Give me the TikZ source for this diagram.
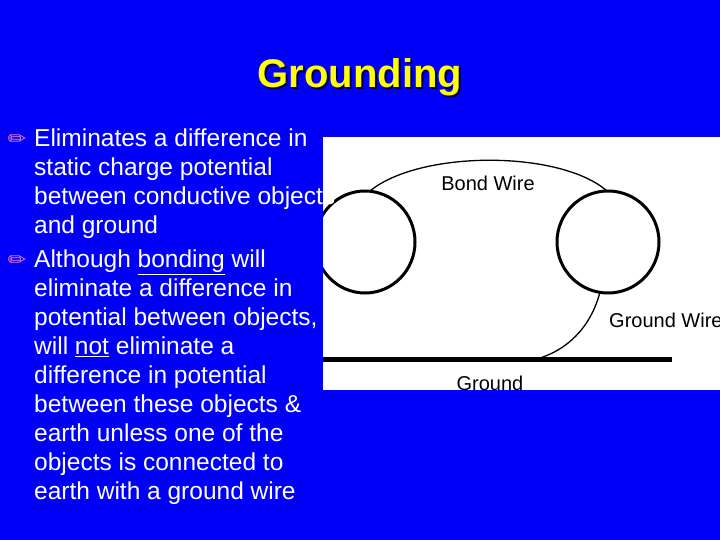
\documentclass[tikz,border=0pt]{standalone}
\usepackage{fontspec}
\setmainfont{Liberation Sans}
\newfontfamily\dejavu{DejaVu Sans}
\definecolor{bg}{RGB}{0,0,250}
\definecolor{ttl}{RGB}{255,255,0}
\definecolor{pen}{RGB}{230,120,200}
\begin{document}
\begin{tikzpicture}[x=1pt,y=-1pt,
  body/.style={text=white,font=\fontsize{24.5}{29}\selectfont,align=left,anchor=north west,inner sep=0pt},
  bul/.style={text=pen,font=\dejavu\fontsize{22}{22}\selectfont,inner sep=0pt},
  lab/.style={font=\fontsize{20}{22}\selectfont,inner sep=0pt},
  ring/.style={line width=3pt,draw=black},
  wire/.style={line width=1.3pt,draw=black}]
\useasboundingbox (0,0) rectangle (720,540);
\fill[bg] (0,0) rectangle (720,540);
% title
\node[text=black!70!blue,font=\bfseries\fontsize{40}{44}\selectfont] at (362,79) {Grounding};
\node[text=ttl,font=\bfseries\fontsize{40}{44}\selectfont] (title) at (360,77) {Grounding};
% image
\fill[white] (323,137) rectangle (720,390);
\begin{scope}
\clip (323,137) rectangle (720,390);
\draw[ring] (365,242) ellipse [x radius=50, y radius=51];
\draw[ring] (608,242) ellipse [x radius=51, y radius=51];
\coordinate (bw1) at (370,191);
\coordinate (bw2) at (607,191);
\draw[wire] (bw1) .. controls (420,150) and (560,150) .. (bw2);
\coordinate (gw1) at (600,292);
\coordinate (gw2) at (540,358);
\draw[wire] (gw1) .. controls (590,330) and (565,350) .. (gw2);
\draw[line width=5pt] (323,359) -- (672,359);
\node[lab] (bond) at (488,183) {Bond Wire};
\node[lab,anchor=west] (gwl) at (609,320) {Ground Wire};
\node[lab] (gnd) at (490,383) {Ground};
\end{scope}
% bullets
\node[bul] (b1) at (17,141) {✏};
\node[body] (t1) at (34,129) {Eliminates a difference in\\static charge potential\\between conductive objects\\and ground};
\node[bul] (b2) at (17,262) {✏};
\node[body] (t2) at (34,250) {Although \underline{bonding} will\\eliminate a difference in\\potential between objects, it\\will \underline{not} eliminate a\\difference in potential\\between these objects \&\\earth unless one of the\\objects is connected to\\earth with a ground wire};
\end{tikzpicture}
\end{document}
